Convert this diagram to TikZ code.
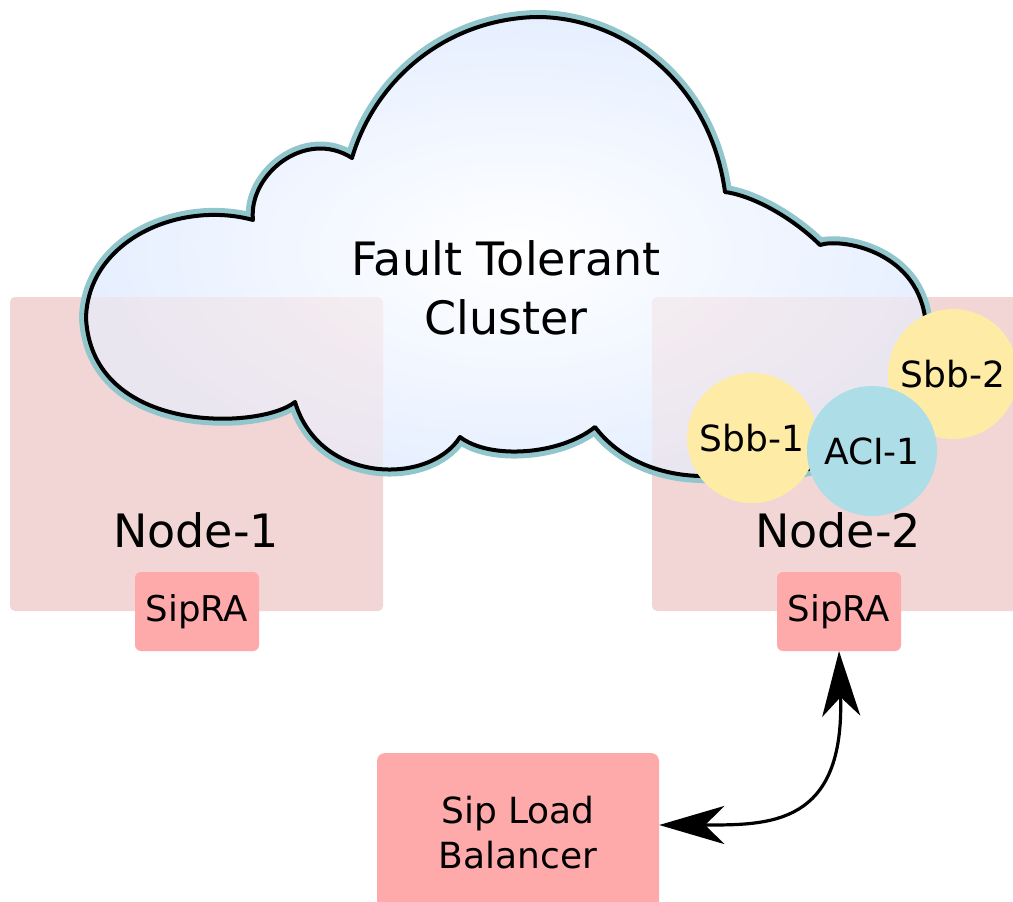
\documentclass[tikz,border=0pt]{standalone}
\usepackage{fontspec}
\setmainfont{DejaVu Sans}
\usetikzlibrary{arrows.meta}
\definecolor{nodepink}{RGB}{242,214,214}
\definecolor{sippink}{RGB}{255,170,170}
\definecolor{sbbyellow}{RGB}{253,235,166}
\definecolor{aciblue}{RGB}{173,221,230}
\definecolor{cloudteal}{RGB}{145,198,204}
\definecolor{cloudblue}{RGB}{230,239,255}
\tikzset{
  cloudshape/.style={insert path={(295,402) .. controls (260,430) and (92,435) .. (86,318)
    .. controls (88,240) and (180,200) .. (253,220)
    .. controls (248,175) and (305,128) .. (352,158)
    .. controls (375,80) and (445,20) .. (535,17)
    .. controls (620,16) and (710,80) .. (725,192)
    .. controls (755,196) and (795,220) .. (820,245)
    .. controls (840,238) and (915,250) .. (925,317)
    .. controls (945,390) and (880,445) .. (840,460)
    .. controls (800,475) and (740,480) .. (700,476)
    .. controls (660,475) and (620,460) .. (595,427)
    .. controls (560,455) and (490,460) .. (460,437)
    .. controls (430,485) and (320,485) .. (295,402) -- cycle}},
  nodebox/.style={fill=nodepink, rounded corners=5, inner sep=0, minimum width=373, minimum height=314},
  sipbox/.style={fill=sippink, rounded corners=6, inner sep=0, minimum width=124, minimum height=79,
    font=\fontsize{35.5}{42}\selectfont},
  bigtext/.style={font=\fontsize{46}{59}\selectfont, align=center, inner sep=0},
  ball/.style={circle, inner sep=0, minimum size=130, font=\fontsize{36}{42}\selectfont},
  link/.style={line width=3.2, >={Stealth[length=65pt, width=38pt, inset=19pt]}, <->}
}
\begin{document}
\begin{tikzpicture}[x=1pt, y=-1pt]
\useasboundingbox (0,0) rectangle (1013,902);
% node boxes
\node[nodebox] (n1box) at (196.5,454) {};
\node[nodebox] (n2box) at (838.5,454) {};
% cloud
\draw[cloudteal, line width=14, line join=round, cloudshape];
\shade[inner color=white, outer color=cloudblue, cloudshape];
\begin{scope}
  \clip[cloudshape];
  \fill[nodepink, opacity=0.35, rounded corners=5] (10,297) rectangle (383,611);
  \fill[nodepink, opacity=0.35, rounded corners=5] (652,297) rectangle (1025,611);
\end{scope}
\draw[black, line width=4, line join=round, cloudshape];
\node[bigtext] (cltext) at (506,288) {Fault Tolerant\\Cluster};
% node labels
\node[bigtext] (n1lab) at (196,530) {Node-1};
\node[bigtext] (n2lab) at (838,530) {Node-2};
% SipRA boxes
\node[sipbox] (s1) at (197,611.5) {SipRA};
\node[sipbox] (s2) at (839,611.5) {SipRA};
% circles
\node[ball, fill=sbbyellow] (sbb2) at (953,374) {Sbb-2};
\node[ball, fill=sbbyellow] (sbb1) at (752,438) {Sbb-1};
\node[ball, fill=aciblue] (aci1) at (872,451) {ACI-1};
% load balancer
\node[fill=sippink, rounded corners=8, inner sep=0, minimum width=282, minimum height=160,
  font=\fontsize{36}{45}\selectfont, align=center] (lb) at (518,833) {Sip Load\\Balancer};
% connector
\draw[link] (s2.south) .. controls +(6,175) and +(110,0) .. ([yshift=8pt]lb.east);
\end{tikzpicture}
\end{document}
